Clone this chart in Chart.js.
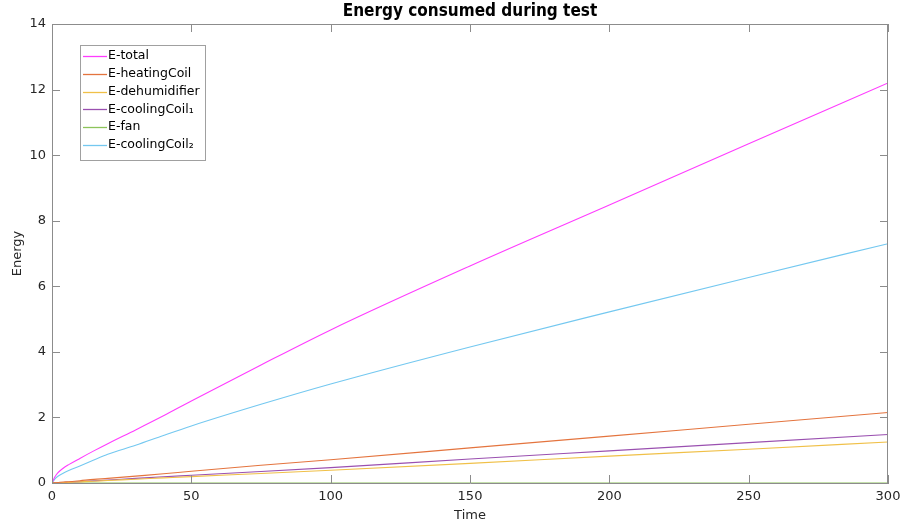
<!DOCTYPE html>
<html>
<head>
<meta charset="utf-8">
<script src="https://cdn.jsdelivr.net/npm/chart.js@4.4.1/dist/chart.umd.min.js"></script>
<style>
  html, body { margin: 0; padding: 0; background: #fff; }
  #chart { display: block; }
</style>
</head>
<body>
<canvas id="chart" width="901" height="524"></canvas>
<script>
// time axis (s) and energy readings per component
const time = [0, 1, 2, 4, 6, 10, 15, 20, 30, 40, 50, 75, 100, 150, 200, 250, 300];
const eTotal = [0, 0.18, 0.3, 0.45, 0.56, 0.75, 0.98, 1.2, 1.62, 2.05, 2.5, 3.6, 4.67, 6.62, 8.48, 10.35, 12.2];
const eHeatingCoil = [0, 0.007, 0.014, 0.03, 0.04, 0.07, 0.11, 0.14, 0.21, 0.28, 0.36, 0.54, 0.71, 1.07, 1.43, 1.79, 2.15];
const eDehumidifier = [0, 0.002, 0.005, 0.01, 0.02, 0.035, 0.055, 0.075, 0.115, 0.155, 0.195, 0.29, 0.39, 0.6, 0.82, 1.03, 1.25];
const eCoolingCoil1 = [0, 0.003, 0.006, 0.015, 0.025, 0.04, 0.065, 0.09, 0.14, 0.19, 0.235, 0.35, 0.47, 0.73, 0.98, 1.23, 1.48];
const eFan = [0, 0, 0, 0, 0, 0, 0, 0, 0, 0, 0, 0, 0, 0, 0, 0, 0];
const eCoolingCoil2 = [0, 0.12, 0.2, 0.3, 0.38, 0.52, 0.7, 0.88, 1.15, 1.45, 1.74, 2.4, 3.02, 4.15, 5.22, 6.27, 7.3];

const seriesNames = ["E-total", "E-heatingCoil", "E-dehumidifier", "E-coolingCoil₁", "E-fan", "E-coolingCoil₂"];
const seriesValues = [eTotal, eHeatingCoil, eDehumidifier, eCoolingCoil1, eFan, eCoolingCoil2];
const seriesColors = ["#ff3cff", "#e4743e", "#f0c048", "#9a50b0", "#8cc45a", "#74c8f0"];

const xTicks = [0, 50, 100, 150, 200, 250, 300];
const yTicks = [0, 2, 4, 6, 8, 10, 12, 14];

const axisColor = "#8c8c8c";
const labelColor = "#262626";

const datasets = seriesNames.map((name, i) => ({
  label: name,
  data: time.map((t, j) => ({ x: t, y: seriesValues[i][j] })),
  borderColor: seriesColors[i],
  backgroundColor: seriesColors[i],
  borderWidth: 1.1,
  pointRadius: 0,
  fill: false,
  cubicInterpolationMode: "monotone",
}));

// box round the axes and inward tick marks, matlab style
const boxTicks = {
  id: "boxTicks",
  afterLayout(chart) {
    // centre the title over the plot area, not the canvas
    const t = chart.titleBlock;
    if (t) {
      t.left = chart.chartArea.left;
      t.right = chart.chartArea.right;
    }
  },
  afterDatasetsDraw(chart) {
    const { ctx, chartArea: a, scales } = chart;
    const len = 8;
    ctx.save();
    ctx.strokeStyle = axisColor;
    ctx.lineWidth = 1;
    ctx.beginPath();
    ctx.moveTo(a.left, a.top + 0.5);
    ctx.lineTo(a.right, a.top + 0.5);
    ctx.moveTo(a.right - 0.5, a.top);
    ctx.lineTo(a.right - 0.5, a.bottom);
    xTicks.forEach((v) => {
      const px = Math.round(scales.x.getPixelForValue(v)) + 0.5;
      ctx.moveTo(px, a.bottom);
      ctx.lineTo(px, a.bottom - len);
      ctx.moveTo(px, a.top);
      ctx.lineTo(px, a.top + len);
    });
    yTicks.forEach((v) => {
      const py = Math.round(scales.y.getPixelForValue(v)) + 0.5;
      ctx.moveTo(a.left, py);
      ctx.lineTo(a.left + len, py);
      ctx.moveTo(a.right, py);
      ctx.lineTo(a.right - len, py);
    });
    ctx.stroke();
    ctx.restore();
  },
  afterDraw(chart) {
    // legend box in the upper left corner
    const { ctx } = chart;
    const x0 = 80, y0 = 45, w = 125, h = 115;
    ctx.save();
    ctx.fillStyle = "#fff";
    ctx.fillRect(x0, y0, w, h);
    ctx.strokeStyle = "#a0a0a0";
    ctx.lineWidth = 1;
    ctx.strokeRect(x0 + 0.5, y0 + 0.5, w, h);
    ctx.font = "12.5px 'DejaVu Sans'";
    ctx.textBaseline = "middle";
    chart.data.datasets.forEach((ds, i) => {
      const y = 56 + i * 17.8;
      ctx.strokeStyle = ds.borderColor;
      ctx.lineWidth = 1.3;
      ctx.beginPath();
      ctx.moveTo(83, Math.round(y) + 0.5);
      ctx.lineTo(107, Math.round(y) + 0.5);
      ctx.stroke();
      ctx.fillStyle = "#000";
      ctx.fillText(ds.label, 108, y);
    });
    ctx.restore();
  },
};

new Chart(document.getElementById("chart"), {
  type: "line",
  data: { datasets },
  options: {
    responsive: false,
    animation: false,
    layout: { padding: { left: 0, right: 13, top: 0, bottom: 0 } },
    plugins: {
      legend: { display: false },
      tooltip: { enabled: false },
      title: {
        display: true,
        text: "Energy consumed during test",
        color: "#000",
        font: { family: "'DejaVu Sans Condensed', 'DejaVu Sans'", size: 17, weight: "bold" },
        padding: { top: 1.6, bottom: 2 },
      },
    },
    scales: {
      x: {
        type: "linear",
        min: 0,
        max: 300,
        afterFit: (s) => { s.height = 41; s.paddingLeft = 0; s.paddingRight = 0; },
        afterBuildTicks: (s) => { s.ticks = xTicks.map((v) => ({ value: v })); },
        grid: { drawOnChartArea: false, drawTicks: false },
        border: { display: true, color: axisColor },
        ticks: { color: labelColor, padding: 6, font: { family: "'DejaVu Sans'", size: 13 } },
        title: {
          display: true,
          text: "Time",
          color: labelColor,
          font: { family: "'DejaVu Sans'", size: 13 },
          padding: { top: 0, bottom: 0.6 },
        },
      },
      y: {
        min: 0,
        max: 14,
        afterFit: (s) => { s.width = 52; s.paddingTop = 0; s.paddingBottom = 0; },
        afterBuildTicks: (s) => { s.ticks = yTicks.map((v) => ({ value: v })); },
        grid: { drawOnChartArea: false, drawTicks: false },
        border: { display: true, color: axisColor },
        ticks: { color: labelColor, padding: 6, font: { family: "'DejaVu Sans'", size: 13 } },
        title: {
          display: true,
          text: "Energy",
          color: labelColor,
          font: { family: "'DejaVu Sans'", size: 13 },
          padding: { top: 9.5, bottom: 0 },
        },
      },
    },
  },
  plugins: [boxTicks],
});
</script>
</body>
</html>
